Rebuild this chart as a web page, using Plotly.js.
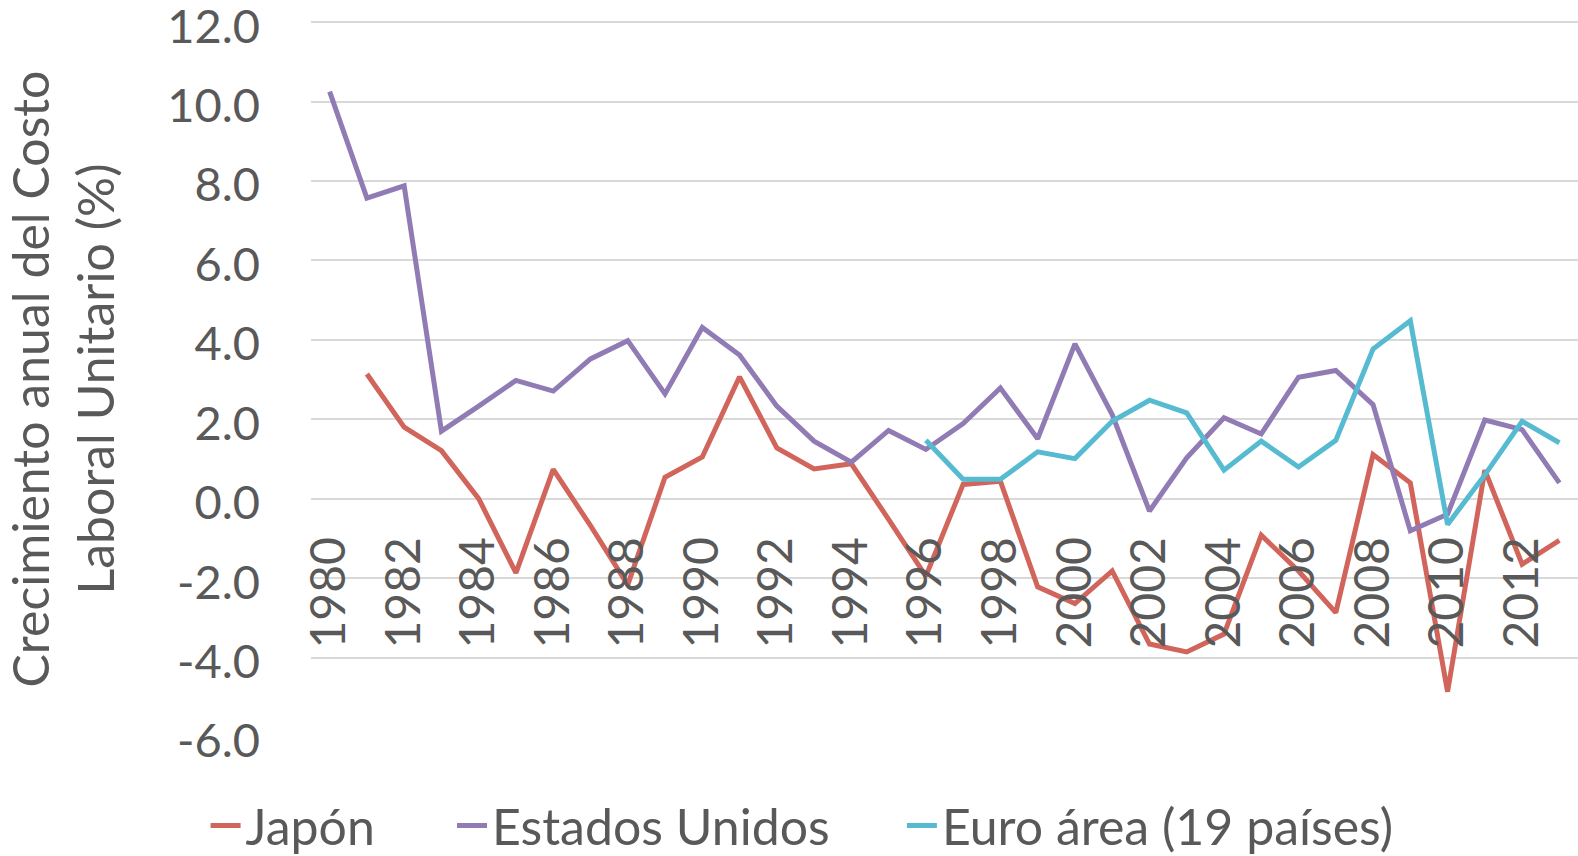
<!DOCTYPE html>
<html>
<head>
<meta charset="utf-8">
<script src="https://cdn.plot.ly/plotly-3.0.1.min.js"></script>
<style>html,body{margin:0;padding:0;background:#fff;}#chart{width:1578px;height:856px;}</style>
</head>
<body>
<div id="chart"></div>
<script>
const years = ["1980","1981","1982","1983","1984","1985","1986","1987","1988","1989","1990","1991","1992","1993","1994","1995","1996","1997","1998","1999","2000","2001","2002","2003","2004","2005","2006","2007","2008","2009","2010","2011","2012","2013"];
const yearTicks = ["1980","1982","1984","1986","1988","1990","1992","1994","1996","1998","2000","2002","2004","2006","2008","2010","2012"];
const yTickVals = [-6,-4,-2,0,2,4,6,8,10,12];
const yTickText = ["-6.0","-4.0","-2.0","0.0","2.0","4.0","6.0","8.0","10.0","12.0"];
const japon = [null,3.14,1.80,1.21,0.00,-1.87,0.74,-0.68,-2.17,0.54,1.05,3.07,1.28,0.75,0.88,-0.52,-1.95,0.36,0.44,-2.22,-2.64,-1.82,-3.66,-3.86,-3.41,-0.92,-1.82,-2.87,1.11,0.40,-4.86,0.72,-1.65,-1.05];
const estadosUnidos = [10.25,7.57,7.88,1.70,2.33,2.98,2.71,3.52,3.98,2.64,4.31,3.62,2.33,1.45,0.92,1.72,1.24,1.89,2.79,1.51,3.90,2.12,-0.31,1.03,2.04,1.63,3.06,3.23,2.37,-0.81,-0.39,1.98,1.74,0.40];
const euroArea = [null,null,null,null,null,null,null,null,null,null,null,null,null,null,null,null,1.47,0.49,0.49,1.18,1.01,1.95,2.48,2.16,0.72,1.45,0.80,1.47,3.77,4.48,-0.65,0.60,1.95,1.41];
const seriesNames = ["Japón","Estados Unidos","Euro área (19 países)"];
const yTitle = "Crecimiento anual del Costo<br>Laboral Unitario (%)";

const FONT = "Lato, 'Open Sans', sans-serif";
const TXT = "#595959";
const LW = 5;

const traces = [
  {x: years, y: japon, name: seriesNames[0], type: "scatter", mode: "lines", line: {color: "#D1655B", width: LW}, legend: "legend"},
  {x: years, y: estadosUnidos, name: seriesNames[1], type: "scatter", mode: "lines", line: {color: "#917BB4", width: LW}, legend: "legend2"},
  {x: years, y: euroArea, name: seriesNames[2], type: "scatter", mode: "lines", line: {color: "#56BBD1", width: LW}, legend: "legend3"}
];

function leg(x) {
  return {orientation: "h", x: x, xanchor: "left", y: -0.1235, yanchor: "middle",
    font: {family: FONT, size: 50, color: TXT}, bgcolor: "rgba(0,0,0,0)", itemwidth: 30};
}

const layout = {
  width: 1578, height: 856,
  margin: {l: 311, r: 0, t: 21, b: 119, pad: 0, autoexpand: false},
  paper_bgcolor: "#fff", plot_bgcolor: "#fff",
  font: {family: FONT, color: TXT, size: 48},
  hovermode: false,
  showlegend: true,
  legend: leg(-0.0832),
  legend2: leg(0.1113),
  legend3: leg(0.4664),
  xaxis: {
    type: "category", range: [-0.5, 33.5], autorange: false,
    anchor: "free", position: 0.3331,
    tickmode: "array", tickvals: yearTicks, ticktext: yearTicks,
    tickangle: -90, showgrid: false, zeroline: false, showline: false,
    ticks: "", ticklabelstandoff: 28,
    tickfont: {family: FONT, size: 48, color: TXT}
  },
  yaxis: {
    range: [-6.001, 12.03], autorange: false,
    tickmode: "array", tickvals: yTickVals, ticktext: yTickText,
    showgrid: true, gridcolor: "#D9D9D9", gridwidth: 2, zeroline: false, showline: false,
    ticks: "", ticklabelstandoff: 50, ticklabelshift: 4, ticklabeloverflow: "allow",
    tickfont: {family: FONT, size: 47, color: TXT},
    title: {text: yTitle, font: {family: FONT, size: 50, color: TXT}, standoff: 37},
    automargin: false
  }
};

Plotly.newPlot("chart", traces, layout, {displayModeBar: false, staticPlot: true});
</script>
</body>
</html>
